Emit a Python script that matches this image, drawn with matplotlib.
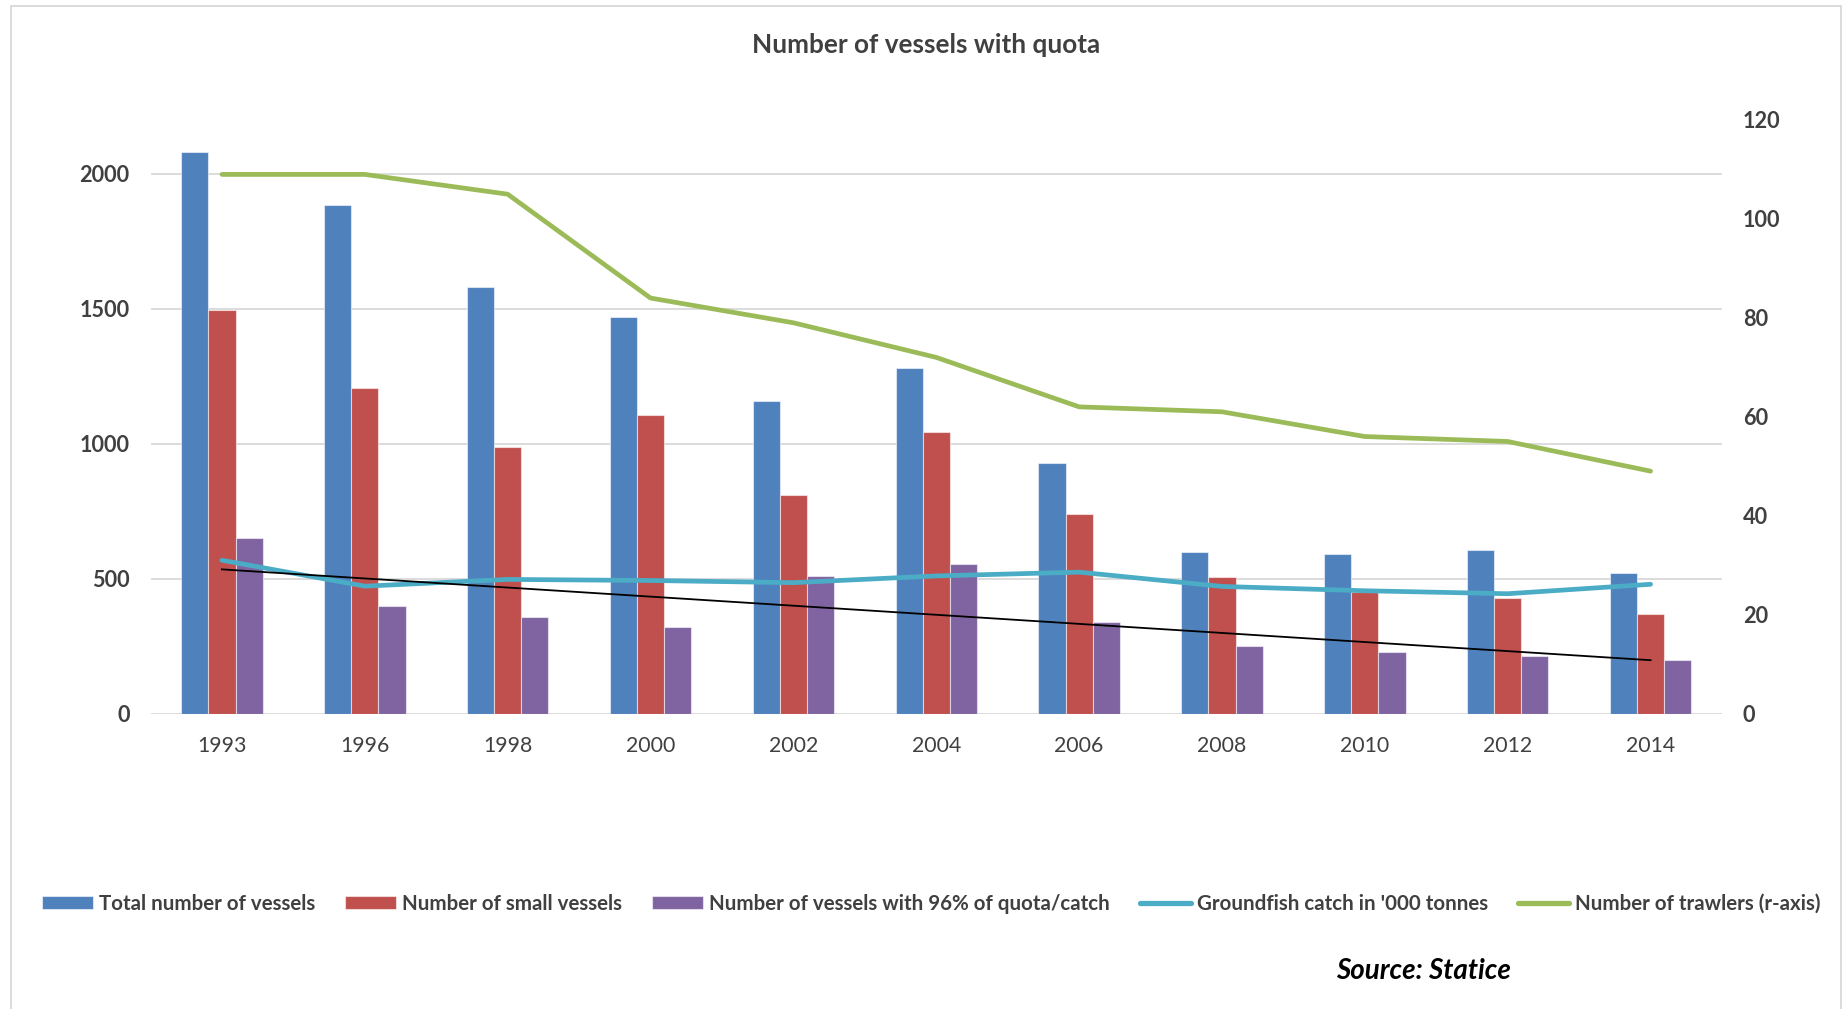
import numpy as np
import matplotlib
matplotlib.use("Agg")
import matplotlib.pyplot as plt
from matplotlib.patches import Rectangle
from matplotlib.lines import Line2D

plt.rcParams['font.family'] = ['Lato', 'DejaVu Sans']

# ---- data -------------------------------------------------------------
years = ['1993', '1996', '1998', '2000', '2002', '2004', '2006',
         '2008', '2010', '2012', '2014']
total_vessels = [2080, 1885, 1580, 1470, 1157, 1281, 928, 600, 590, 607, 522]
small_vessels = [1495, 1206, 988, 1106, 809, 1043, 740, 505, 452, 427, 369]
vessels_96pct = [650, 400, 359, 320, 510, 554, 340, 252, 228, 214, 198]
groundfish_catch = [568, 472, 497, 493, 485, 510, 524, 471, 455, 444, 479]
trawlers = [109, 109, 105, 84, 79, 72, 62, 61, 56, 55, 49]

left_ticks = [0, 500, 1000, 1500, 2000]
right_ticks = [0, 20, 40, 60, 80, 100, 120]

# ---- style ------------------------------------------------------------
C_BLUE = '#4F81BD'
C_RED = '#C0504D'
C_PURPLE = '#8064A2'
C_CYAN = '#4BACC6'
C_GREEN = '#9BBB59'
C_TEXT = '#404040'
C_GRID = '#D9D9D9'

W, H, DPI = 1843, 1009, 100
fig = plt.figure(figsize=(W / DPI, H / DPI), dpi=DPI)
fig.patch.set_facecolor('white')

# chart-area outline
fig.add_artist(Rectangle((11 / W, -0.02), (1841 - 11) / W, 1.02 - 6 / H,
                         transform=fig.transFigure, fill=False,
                         edgecolor=C_GRID, linewidth=1.3))

ax_l, ax_b = 150.5 / W, 1 - 713.5 / H
ax = fig.add_axes([ax_l, ax_b, (1722 - 150.5) / W, (713.5 - 120) / H])
ax2 = ax.twinx()

x = np.arange(len(years))
bw = 0.19
edge = dict(edgecolor=(1, 1, 1, 0.55), linewidth=0.8)
b1 = ax.bar(x - bw, total_vessels, bw, color=C_BLUE, zorder=2, **edge)
b2 = ax.bar(x, small_vessels, bw, color=C_RED, zorder=2, **edge)
b3 = ax.bar(x + bw, vessels_96pct, bw, color=C_PURPLE, zorder=2, **edge)

l1, = ax.plot(x, groundfish_catch, color=C_CYAN, lw=3.4,
              solid_capstyle='round', solid_joinstyle='round', zorder=3)

# linear trend of the 96%-of-quota series
coef = np.polyfit(x, vessels_96pct, 1)
ax.plot(x, np.polyval(coef, x), color='black', lw=1.3, zorder=4)

l2, = ax2.plot(x, trawlers, color=C_GREEN, lw=3.4,
               solid_capstyle='round', solid_joinstyle='round', zorder=3)

# axes formatting
ax.set_xlim(-0.5, len(years) - 0.5)
ax.set_ylim(0, 2200)
ax2.set_ylim(0, 120)
ax.set_yticks(left_ticks)
ax2.set_yticks(right_ticks)
ax.set_xticks(x)
ax.set_xticklabels(years)
ax.yaxis.grid(True, color=C_GRID, linewidth=1.3, zorder=0)
ax.set_axisbelow(True)
for a in (ax, ax2):
    for s in a.spines.values():
        s.set_visible(False)
ax.tick_params(axis='both', length=0)
ax2.tick_params(axis='both', length=0)
ax.tick_params(axis='x', pad=16, labelsize=15.3, labelcolor=C_TEXT)
ax.tick_params(axis='y', pad=15, labelsize=15.6, labelcolor=C_TEXT)
ax2.tick_params(axis='y', pad=15, labelsize=15.6, labelcolor=C_TEXT)
for lab in ax.get_yticklabels() + ax2.get_yticklabels():
    lab.set_fontweight('bold')

fig.text(926 / W, 1 - 44.7 / H, 'Number of vessels with quota',
         ha='center', va='center', fontsize=18.8, fontweight='bold',
         color=C_TEXT)

handles = [b1, b2, b3,
           Line2D([], [], color=C_CYAN, lw=3.8, solid_capstyle='round'),
           Line2D([], [], color=C_GREEN, lw=3.8, solid_capstyle='round')]
labels = ['Total number of vessels', 'Number of small vessels',
          'Number of vessels with 96% of quota/catch',
          "Groundfish catch in '000 tonnes", 'Number of trawlers (r-axis)']
leg = fig.legend(handles, labels, loc='center', ncol=5,
                 bbox_to_anchor=(931 / W, 1 - 904 / H), frameon=False,
                 prop=dict(size=14.8, weight='bold'),
                 handlelength=2.5, handleheight=0.6, handletextpad=0.28,
                 columnspacing=1.45)
for t in leg.get_texts():
    t.set_color(C_TEXT)

fig.text(1336 / W, 1 - 971 / H, 'Source: Statice', ha='left', va='center',
         fontsize=20, fontweight='bold', fontstyle='italic', color='black')

fig.savefig('out.png', dpi=DPI, facecolor='white')
